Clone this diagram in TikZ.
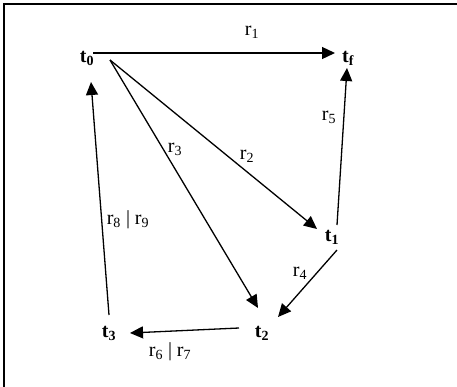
\documentclass[tikz,border=0pt]{standalone}
\usepackage{fontspec}
\setmainfont{Liberation Serif}
\usetikzlibrary{arrows.meta,calc}
\tikzset{
  st/.style={font=\fontsize{20}{23}\selectfont\bfseries, inner sep=1pt},
  lbl/.style={font=\fontsize{20}{23}\selectfont, inner sep=1pt},
  arr/.style={line width=1.3pt, -{Triangle[length=13pt,width=12pt]}}
}
\newcommand{\tsub}[2]{#1\textsubscript{#2}}
\begin{document}
\begin{tikzpicture}[x=1pt,y=-1pt]
\clip (0,0) rectangle (457,386);
\draw[line width=2pt] (4.3,4.3) rectangle (480,400);
% states
\node[st] (t0) at (87,58) {\tsub{t}{0}};
\node[st] (tf) at (348,58) {\tsub{t}{f}};
\node[st] (t1) at (332,237) {\tsub{t}{1}};
\node[st] (t2) at (262,333) {\tsub{t}{2}};
\node[st] (t3) at (109,333) {\tsub{t}{3}};
% connector ends
\coordinate (t0a) at ($(t0)+(6,-5)$);
\coordinate (t0b) at ($(t0)+(23,2)$);
\coordinate (t0c) at ($(t0)+(4,24)$);
\coordinate (tfa) at ($(tf)+(-13,-5)$);
\coordinate (tfb) at ($(tf)+(-1,10)$);
\coordinate (t1a) at ($(t1)+(-15,-8)$);
\coordinate (t1b) at ($(t1)+(5,-12)$);
\coordinate (t1c) at ($(t1)+(5,13)$);
\coordinate (t2a) at ($(t2)+(-4,-25)$);
\coordinate (t2b) at ($(t2)+(16,-16)$);
\coordinate (t2c) at ($(t2)+(-23,-5)$);
\coordinate (t3a) at ($(t3)+(21,0)$);
\coordinate (t3b) at ($(t3)+(0,-18)$);
% arrows
\draw[arr] (t0a) -- (tfa);
\draw[arr] (t0b) -- (t1a);
\draw[arr] (t0b) -- (t2a);
\draw[arr] (t1b) -- (tfb);
\draw[arr] (t1c) -- (t2b);
\draw[arr] (t2c) -- (t3a);
\draw[arr] (t3b) -- (t0c);
% labels
\node[lbl] (l1) at (252,32) {\tsub{r}{1}};
\node[lbl] (l5) at (329,117) {\tsub{r}{5}};
\node[lbl] (l3) at (175,149) {\tsub{r}{3}};
\node[lbl] (l2) at (247,156) {\tsub{r}{2}};
\node[lbl] (l89) at (128,220) {\tsub{r}{8} | \tsub{r}{9}};
\node[lbl] (l4) at (300,273) {\tsub{r}{4}};
\node[lbl] (l67) at (170,352) {\tsub{r}{6} | \tsub{r}{7}};
\end{tikzpicture}
\end{document}
